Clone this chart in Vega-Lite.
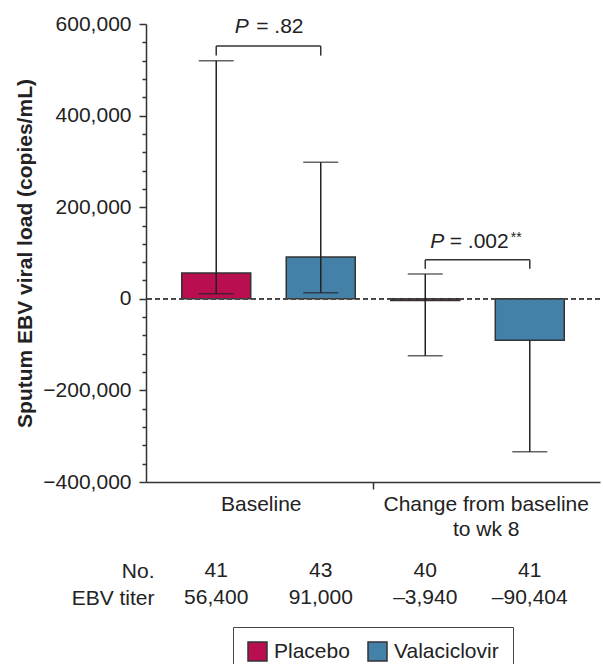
{
  "$schema": "https://vega.github.io/schema/vega-lite/v6.json",
  "width": 454,
  "height": 458,
  "autosize": {"type": "none"},
  "padding": {"left": 146, "top": 24, "right": 3, "bottom": 182},
  "config": {
    "font": "Liberation Sans",
    "view": {"stroke": null},
    "text": {"font": "Liberation Sans", "color": "#222"}
  },
  "datasets": {
    "bars": [
      {"bar": "P_B", "group": "Baseline", "arm": "Placebo", "value": 56400, "lo": 11000, "hi": 520000, "n": "41", "titer": "56,400"},
      {"bar": "V_B", "group": "Baseline", "arm": "Valaciclovir", "value": 91000, "lo": 13000, "hi": 298000, "n": "43", "titer": "91,000"},
      {"bar": "P_C", "group": "Change from baseline to wk 8", "arm": "Placebo", "value": -3940, "lo": -124500, "hi": 54000, "n": "40", "titer": "–3,940"},
      {"bar": "V_C", "group": "Change from baseline to wk 8", "arm": "Valaciclovir", "value": -90404, "lo": -334000, "hi": -90404, "n": "41", "titer": "–90,404"}
    ],
    "brackets": [
      {"b1": "P_B", "b2": "V_B", "top": 552000, "leg": 531000},
      {"b1": "P_C", "b2": "V_C", "top": 85000, "leg": 65500}
    ]
  },
  "layer": [
    {
      "layer": [
        {
          "data": {"name": "bars"},
          "mark": {"type": "bar", "stroke": "#333", "strokeWidth": 1.5},
          "encoding": {
            "x": {
              "field": "bar", "type": "nominal",
              "scale": {"domain": ["P_B", "V_B", "P_C", "V_C"], "paddingInner": 0.34, "paddingOuter": 0.342},
              "axis": {
                "title": null,
                "labelExpr": "datum.value == 'V_B' ? 'Baseline' : datum.value == 'P_C' ? ['Change from baseline', 'to wk 8'] : ''",
                "labelAngle": 0,
                "labelOffset": {"condition": {"test": "datum.value == 'V_B'", "value": -7.25}, "value": 113.25},
                "labelOverlap": false,
                "labelBound": false,
                "labelLimit": 0,
                "tickOffset": -52.75,
                "tickOpacity": {"condition": {"test": "datum.value == 'P_C'", "value": 1}, "value": 0},
                "tickSize": 7,
                "tickWidth": 1.5,
                "tickColor": "#333",
                "domainColor": "#333",
                "domainWidth": 1.5,
                "labelPadding": 4,
                "labelLineHeight": 25,
                "labelFontSize": 21,
                "labelColor": "#222",
                "labelFont": "Liberation Sans"
              }
            },
            "y": {
              "field": "value", "type": "quantitative",
              "scale": {"domain": [-400000, 600000], "nice": false, "zero": false},
              "axis": {
                "values": [-400000, -360000, -320000, -280000, -240000, -200000, -160000, -120000, -80000, -40000, 0, 40000, 80000, 120000, 160000, 200000, 240000, 280000, 320000, 360000, 400000, 440000, 480000, 520000, 560000, 600000],
                "tickCount": 100,
                "labelExpr": "datum.value % 200000 == 0 ? format(datum.value, ',') : ''",
                "labelOverlap": false,
                "labelBound": false,
                "labelFlush": false,
                "tickSize": {"condition": {"test": "datum.value % 200000 == 0", "value": 7}, "value": 4},
                "grid": false,
                "labelPadding": 8,
                "labelFontSize": 21,
                "labelColor": "#222",
                "labelFont": "Liberation Sans",
                "tickColor": "#333",
                "tickWidth": 1.5,
                "domainColor": "#333",
                "domainWidth": 1.5,
                "title": "Sputum EBV viral load (copies/mL)",
                "titleFontSize": 21,
                "titleFontWeight": "bold",
                "titleColor": "#222",
                "titleFont": "Liberation Sans",
                "titlePadding": 7
              }
            },
            "color": {
              "field": "arm", "type": "nominal",
              "scale": {"domain": ["Placebo", "Valaciclovir"], "range": ["#B90E50", "#4481A9"]},
              "legend": {
                "title": null,
                "orient": "none",
                "legendX": 87,
                "legendY": 603,
                "direction": "horizontal",
                "symbolType": "square",
                "symbolSize": 361,
                "symbolStrokeColor": "#333",
                "symbolStrokeWidth": 1.5,
                "labelFontSize": 21,
                "labelColor": "#222",
                "labelFont": "Liberation Sans",
                "labelOffset": 6,
                "columnPadding": 15,
                "padding": 14,
                "strokeColor": "#444"
              }
            }
          }
        },
        {
          "data": {"name": "bars"},
          "mark": {"type": "rule", "color": "#222", "strokeWidth": 1.5},
          "encoding": {
            "x": {"field": "bar", "type": "nominal"},
            "y": {"field": "lo", "type": "quantitative"},
            "y2": {"field": "hi"}
          }
        },
        {
          "data": {"name": "bars"},
          "mark": {"type": "tick", "color": "#222", "thickness": 1.5},
          "encoding": {
            "x": {"field": "bar", "type": "nominal"},
            "y": {"field": "lo", "type": "quantitative"},
            "size": {"value": 35}
          }
        },
        {
          "data": {"name": "bars"},
          "transform": [{"filter": "datum.bar != 'V_C'"}],
          "mark": {"type": "tick", "color": "#222", "thickness": 1.5},
          "encoding": {
            "x": {"field": "bar", "type": "nominal"},
            "y": {"field": "hi", "type": "quantitative"},
            "size": {"value": 35}
          }
        },
        {
          "data": {"name": "bars"},
          "mark": {"type": "rule", "color": "#444", "strokeWidth": 1.2, "strokeDash": [5, 3]},
          "encoding": {"y": {"datum": 0}}
        },
        {
          "data": {"name": "brackets"},
          "mark": {"type": "rule", "color": "#333", "strokeWidth": 1.5},
          "encoding": {
            "x": {"field": "b1", "type": "nominal"},
            "x2": {"field": "b2"},
            "y": {"field": "top", "type": "quantitative"}
          }
        },
        {
          "data": {"name": "brackets"},
          "mark": {"type": "rule", "color": "#333", "strokeWidth": 1.5},
          "encoding": {
            "x": {"field": "b1", "type": "nominal"},
            "y": {"field": "leg", "type": "quantitative"},
            "y2": {"field": "top"}
          }
        },
        {
          "data": {"name": "brackets"},
          "mark": {"type": "rule", "color": "#333", "strokeWidth": 1.5},
          "encoding": {
            "x": {"field": "b2", "type": "nominal"},
            "y": {"field": "leg", "type": "quantitative"},
            "y2": {"field": "top"}
          }
        },
        {
          "data": {"values": [{"bar": "P_B", "y": 580000, "t": "P"}]},
          "mark": {"type": "text", "fontSize": 21, "fontStyle": "italic", "align": "right", "baseline": "alphabetic", "dx": 32.5},
          "encoding": {"x": {"field": "bar", "type": "nominal"}, "y": {"field": "y", "type": "quantitative"}, "text": {"field": "t"}}
        },
        {
          "data": {"values": [{"bar": "P_B", "y": 580000, "t": "= .82"}]},
          "mark": {"type": "text", "fontSize": 21, "align": "left", "baseline": "alphabetic", "dx": 40},
          "encoding": {"x": {"field": "bar", "type": "nominal"}, "y": {"field": "y", "type": "quantitative"}, "text": {"field": "t"}}
        },
        {
          "data": {"values": [{"bar": "P_C", "y": 111000, "t": "P"}]},
          "mark": {"type": "text", "fontSize": 21, "fontStyle": "italic", "align": "right", "baseline": "alphabetic", "dx": 19},
          "encoding": {"x": {"field": "bar", "type": "nominal"}, "y": {"field": "y", "type": "quantitative"}, "text": {"field": "t"}}
        },
        {
          "data": {"values": [{"bar": "P_C", "y": 111000, "t": "= .002"}]},
          "mark": {"type": "text", "fontSize": 21, "align": "left", "baseline": "alphabetic", "dx": 24.5},
          "encoding": {"x": {"field": "bar", "type": "nominal"}, "y": {"field": "y", "type": "quantitative"}, "text": {"field": "t"}}
        },
        {
          "data": {"values": [{"bar": "P_C", "y": 111000, "t": "**"}]},
          "mark": {"type": "text", "fontSize": 14, "align": "left", "baseline": "alphabetic", "dx": 85.5, "dy": -6},
          "encoding": {"x": {"field": "bar", "type": "nominal"}, "y": {"field": "y", "type": "quantitative"}, "text": {"field": "t"}}
        }
      ]
    },
    {
      "layer": [
        {
          "data": {"name": "bars"},
          "mark": {"type": "text", "fontSize": 21, "baseline": "middle", "align": "center"},
          "encoding": {
            "x": {"field": "bar", "type": "nominal"},
            "y": {
              "datum": "No.", "type": "nominal",
              "scale": {"domain": ["No.", "EBV titer"], "range": [547, 574], "padding": 0},
              "axis": {
                "orient": "left",
                "title": null,
                "offset": -10,
                "ticks": false,
                "domain": false,
                "labelPadding": 2,
                "labelFontSize": 21,
                "labelColor": "#222",
                "labelFont": "Liberation Sans"
              }
            },
            "text": {"field": "n"}
          }
        },
        {
          "data": {"name": "bars"},
          "mark": {"type": "text", "fontSize": 21, "baseline": "middle", "align": "center"},
          "encoding": {
            "x": {"field": "bar", "type": "nominal"},
            "y": {"datum": "EBV titer", "type": "nominal"},
            "text": {"field": "titer"}
          }
        }
      ]
    }
  ],
  "resolve": {"scale": {"y": "independent"}, "axis": {"y": "independent"}}
}
